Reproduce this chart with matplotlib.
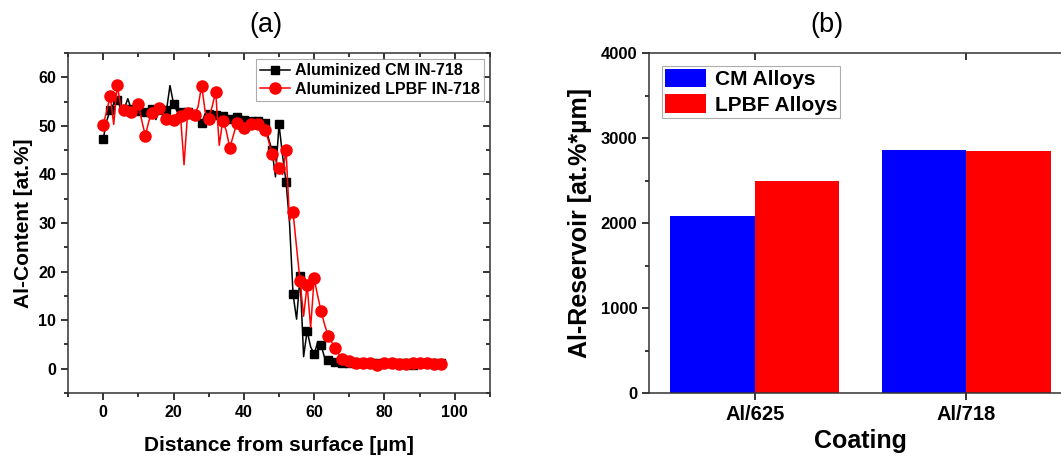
import numpy as np
import matplotlib
matplotlib.use("Agg")
import matplotlib.pyplot as plt
from matplotlib.ticker import MultipleLocator

plt.rcParams["font.family"] = ["Liberation Sans", "DejaVu Sans"]
plt.rcParams["font.weight"] = "bold"

# (a) Al concentration profiles, one reading per micrometre
distance = list(range(0, 98))
cm_718 = [
    47.3, 51.0, 53.3, 54.5, 55.4, 53.5, 53.5, 55.6, 53.4, 53.2,
    53.0, 53.2, 52.8, 53.5, 53.5, 51.3, 53.2, 53.0, 53.2, 58.3,
    54.6, 53.0, 52.8, 52.5, 52.8, 52.5, 52.3, 52.3, 50.6, 52.5,
    52.5, 52.3, 52.2, 52.0, 52.0, 51.8, 51.5, 51.8, 51.8, 51.5,
    51.2, 51.0, 51.0, 51.0, 51.0, 50.8, 50.6, 47.5, 45.0, 39.5,
    50.3, 44.0, 38.5, 30.0, 15.3, 10.2, 19.0, 2.5, 7.8, 4.5,
    3.0, 5.5, 4.8, 2.2, 1.8, 1.5, 1.3, 1.2,
    1.2, 1.1, 1.2, 1.2, 1.1, 1.2, 1.2, 1.1, 1.2, 1.2,
    1.1, 1.2, 1.2, 1.1, 1.2, 1.2, 1.1, 1.2, 1.2, 1.1,
    0.7, 0.9, 1.2, 1.2, 1.1, 1.2, 1.2, 1.1, 1.2, 1.2,
]
lpbf_718 = [
    50.2, 53.0, 56.2, 50.3, 58.4, 54.0, 53.2, 53.0, 52.8, 53.5,
    54.6, 51.0, 48.0, 51.0, 52.7, 53.2, 53.6, 52.5, 51.5, 51.4,
    51.3, 51.8, 52.0, 42.0, 52.6, 52.5, 52.2, 54.0, 58.3, 53.0,
    51.5, 54.0, 57.0, 46.0, 51.0, 49.0, 45.5, 48.0, 50.5, 50.0,
    49.5, 50.0, 50.4, 50.3, 50.3, 50.0, 49.2, 47.0, 44.2, 43.0,
    41.4, 40.0, 45.1, 30.5, 32.2, 25.0, 18.0, 10.8, 17.3, 8.5,
    18.6, 15.0, 11.8, 9.0, 6.8, 5.5, 4.2, 3.0, 2.1, 1.8,
    1.6,
    1.3, 1.2, 1.1, 1.1, 1.0, 1.1, 1.1, 0.8, 1.0, 1.1,
    1.0, 1.1, 1.1, 1.0, 1.1, 1.0, 1.1, 1.1, 1.0, 1.1,
    1.0, 1.1, 1.1, 1.0, 1.1, 1.0, 1.1,
]

# (b) Al reservoir per coating
coatings = ["Al/625", "Al/718"]
cm_reservoir = [2078, 2854]
lpbf_reservoir = [2489, 2847]

fig = plt.figure(figsize=(10.61, 4.57), dpi=100)

# ---- panel (a)
ax1 = fig.add_axes([0.0641, 0.140, 0.3977, 0.744])
ax1.plot(distance, cm_718, color="black", lw=1.1, marker="s", ms=6,
         markevery=2, label="Aluminized CM IN-718")
ax1.plot(distance, lpbf_718, color="red", lw=1.1, marker="o", ms=8,
         markevery=2, label="Aluminized LPBF IN-718")
ax1.set_xlim(-10, 110)
ax1.set_ylim(-5, 65)
ax1.xaxis.set_major_locator(MultipleLocator(20))
ax1.xaxis.set_minor_locator(MultipleLocator(10))
ax1.yaxis.set_major_locator(MultipleLocator(10))
ax1.yaxis.set_minor_locator(MultipleLocator(5))
ax1.tick_params(which="both", top=True, right=True, labelsize=11.5, width=1.1,
                direction="out")
ax1.tick_params(which="major", length=5)
ax1.tick_params(which="minor", length=3)
# mirrored ticks point inward on top and right
for t in ax1.xaxis.get_major_ticks() + ax1.xaxis.get_minor_ticks():
    t.tick2line.set_marker(3)
for t in ax1.yaxis.get_major_ticks() + ax1.yaxis.get_minor_ticks():
    t.tick2line.set_marker(0)
ax1.set_xlabel("Distance from surface [µm]", fontsize=15, fontweight="bold", labelpad=12)
ax1.set_ylabel("Al-Content [at.%]", fontsize=15, fontweight="bold")
for s in ax1.spines.values():
    s.set_linewidth(1.1)
    s.set_color("#333333")
leg = ax1.legend(loc="upper right", fontsize=11.5, frameon=True, fancybox=False,
                 handlelength=1.9, borderpad=0.25, labelspacing=0.2,
                 handletextpad=0.3, borderaxespad=0.4)
leg.get_frame().set_edgecolor("#999999")
leg.get_frame().set_linewidth(0.8)
fig.text(0.251, 0.945, "(a)", fontsize=19.5, fontweight="normal", ha="center", va="center")

# ---- panel (b)
ax2 = fig.add_axes([0.6117, 0.140, 0.3987, 0.744])
x = np.arange(len(coatings))
w = 0.4
ax2.bar(x - w / 2, cm_reservoir, width=w, color="#0000FF", label="CM Alloys")
ax2.bar(x + w / 2, lpbf_reservoir, width=w, color="#FF0000", label="LPBF Alloys")
ax2.set_xlim(-0.5, 1.5)
ax2.set_ylim(0, 4000)
ax2.set_xticks(x)
ax2.set_xticklabels(coatings)
ax2.yaxis.set_major_locator(MultipleLocator(1000))
ax2.yaxis.set_minor_locator(MultipleLocator(500))
ax2.tick_params(axis="x", labelsize=14.5, direction="out", length=5, width=1.1, top=True)
ax2.tick_params(axis="y", which="both", labelsize=12, direction="out", width=1.1)
ax2.tick_params(axis="y", which="major", length=5)
ax2.tick_params(axis="y", which="minor", length=3)
for t in ax2.xaxis.get_major_ticks():
    t.tick2line.set_marker(3)
ax2.set_xlabel("Coating", fontsize=18, fontweight="bold", labelpad=4)
ax2.set_ylabel("Al-Reservoir [at.%*µm]", fontsize=18, fontweight="bold", labelpad=6)
for s in ax2.spines.values():
    s.set_linewidth(1.1)
    s.set_color("#333333")
leg2 = ax2.legend(loc="upper left", fontsize=15, frameon=True, fancybox=False,
                  handlelength=2.0, handleheight=1.0, borderpad=0.15,
                  labelspacing=0.25, handletextpad=0.4, borderaxespad=0.6)
leg2.get_frame().set_edgecolor("#999999")
leg2.get_frame().set_linewidth(0.8)
fig.text(0.779, 0.945, "(b)", fontsize=19.5, fontweight="normal", ha="center", va="center")

fig.savefig("out.png", dpi=100)
